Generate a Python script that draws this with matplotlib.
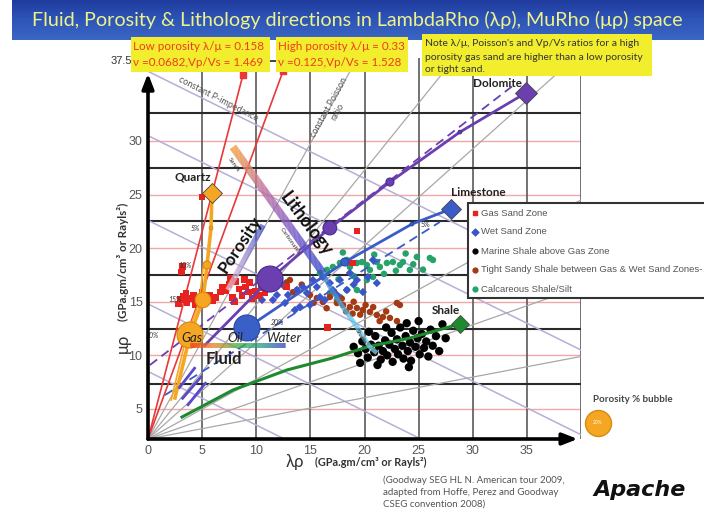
import numpy as np
import matplotlib
matplotlib.use("Agg")
import matplotlib.pyplot as plt
from matplotlib.collections import LineCollection
from matplotlib.colors import LinearSegmentedColormap
from matplotlib.patches import Rectangle

plt.rcParams['font.family'] = ['Lato', 'DejaVu Sans']

# ---------------- axis ticks ----------------
lr_ticks = [0, 5, 10, 15, 20, 25, 30, 35]
mr_ticks = [5, 10, 15, 20, 25, 30]
mr_top = 37.5
overlay_grid_mr = [7.35, 12.45, 17.5, 22.5, 27.5, 32.6]

# ---------------- well-log clusters (lambda-rho, mu-rho) ----------------
gas_lr = [3.0, 3.3, 3.6, 3.9, 4.2, 4.5, 4.8, 5.1, 5.4, 5.7, 6.0, 3.5, 4.4, 5.0, 6.3, 2.8,
          7.2, 7.5, 7.8, 8.1, 8.4, 8.7, 9.0, 9.3, 9.6, 9.9, 10.2, 10.5, 8.0, 8.9, 7.6, 9.4,
          10.8, 6.7, 6.9, 3.2, 3.1, 4.99, 19.3, 18.9, 16.6, 12.8]
gas_mr = [15.2, 15.5, 14.9, 15.3, 15.6, 15.0, 15.4, 14.8, 15.2, 15.6, 15.1, 15.8, 14.7, 15.9, 15.4, 14.8,
          16.0, 16.6, 15.4, 16.9, 16.2, 15.6, 16.4, 15.9, 15.3, 16.0, 15.6, 16.3, 15.0, 17.1, 17.2, 16.8,
          15.8, 15.9, 16.4, 18.3, 17.8, 24.77, 21.6, 18.6, 12.6, 16.4]

wet_lr = [11.54, 11.91, 12.65, 12.93, 13.76, 14.04, 14.31, 14.68, 15.24, 15.60, 15.88, 16.16, 16.80,
          17.08, 17.73, 18.37, 18.65, 19.30, 19.85, 20.31, 20.78, 21.14, 13.57, 14.96, 16.34, 12.47,
          10.53, 17.5, 19.0]
wet_mr = [15.17, 15.63, 14.89, 15.63, 16.10, 14.51, 16.38, 15.82, 17.03, 16.38, 15.45, 17.31, 16.75,
          16.10, 17.03, 16.10, 17.69, 17.03, 15.91, 17.31, 18.90, 16.75, 14.23, 14.70, 15.17, 16.56,
          15.17, 15.6, 16.6]

marine_lr = [19.0, 19.4, 19.8, 20.1, 20.3, 20.6, 20.9, 21.0, 21.3, 21.5, 21.7, 21.9, 22.1, 22.3, 22.5,
             22.6, 22.8, 23.0, 23.1, 23.3, 23.5, 23.6, 23.8, 24.0, 24.2, 24.3, 24.5, 24.7, 24.9, 25.1,
             25.3, 25.5, 25.7, 25.9, 26.1, 26.3, 26.6, 26.9, 27.2, 25.0, 23.9, 22.0, 20.4, 27.5, 21.2,
             24.1, 19.6]
marine_mr = [10.8, 10.2, 11.3, 10.6, 9.8, 11.0, 10.3, 11.8, 10.9, 9.6, 10.4, 11.4, 10.0, 11.0, 12.1,
             9.4, 10.6, 11.5, 10.1, 12.6, 10.9, 9.7, 11.8, 10.4, 11.2, 9.5, 12.3, 10.8, 11.6, 10.1,
             12.0, 10.7, 11.3, 9.9, 12.4, 10.9, 11.8, 10.4, 12.9, 13.2, 13.0, 12.6, 12.2, 11.6, 9.1,
             8.9, 9.3]

tight_lr = [12.19, 13.11, 13.76, 14.96, 15.60, 16.16, 16.80, 17.45, 18.01, 18.65, 19.30, 19.85, 20.50,
            21.14, 21.70, 22.35, 22.99, 23.27, 16.5, 17.9, 18.3, 19.0, 19.6, 20.8, 21.4, 15.3, 14.2,
            13.4, 20.1, 22.0, 23.0, 17.2, 18.9, 12.8]
tight_mr = [17.22, 17.03, 16.10, 15.63, 15.35, 14.98, 15.45, 14.89, 14.70, 14.51, 14.42, 14.24, 14.05,
            13.77, 13.58, 13.49, 14.89, 14.70, 14.4, 15.3, 14.1, 15.0, 13.8, 14.5, 13.2, 14.9, 16.6,
            15.9, 14.7, 14.1, 13.2, 15.9, 13.9, 16.8]

calc_lr = [15.88, 16.53, 17.08, 17.73, 18.37, 18.65, 19.30, 19.76, 20.22, 20.50, 21.14, 21.42, 22.07,
           22.62, 23.27, 23.55, 24.19, 24.84, 26.04, 26.32, 20.22, 20.78, 19.30, 18.37, 17.73, 17.45,
           16.80, 21.8, 22.9, 19.0, 17.6, 24.5, 25.4, 20.9, 18.0, 23.8]
calc_mr = [17.69, 17.97, 18.25, 18.62, 18.90, 18.25, 18.62, 18.71, 18.43, 17.97, 18.71, 18.25, 18.62,
           18.71, 18.43, 18.71, 17.97, 19.18, 19.08, 18.90, 17.03, 17.31, 16.10, 16.10, 15.45, 15.17,
           15.82, 17.6, 17.9, 17.4, 17.1, 18.5, 18.0, 19.4, 19.6, 19.5]

# ---------------- mineral end points and porosity trends ----------------
mineral_names = ['Quartz', 'Dolomite', 'Limestone', 'Shale']
mineral_lr = [5.91, 34.9, 27.98, 28.81]
mineral_mr = [25.14, 34.48, 23.65, 12.93]

quartz_trend_lr = [5.91, 5.82, 5.45, 5.08, 3.88, 2.49]
quartz_trend_mr = [25.14, 21.88, 18.43, 15.17, 11.9, 6.03]
quartz_bub_lr = [5.82, 5.45, 5.08, 3.88]
quartz_bub_mr = [21.88, 18.43, 15.17, 11.9]
quartz_por = [5, 10, 15, 20]

dolo_trend_lr = [5.26, 11.27, 16.8, 22.35, 28.81, 34.9]
dolo_trend_mr = [10.96, 17.12, 21.88, 26.17, 30.83, 34.48]
dolo_bub_lr = [11.27, 16.8, 22.35, 28.81]
dolo_bub_mr = [17.12, 21.88, 26.17, 30.83]
dolo_por = [20, 14, 10, 5]

lime_trend_lr = [9.14, 18.19, 24.38, 27.98]
lime_trend_mr = [12.56, 18.71, 22.25, 23.65]
lime_bub_lr = [9.14, 18.19, 24.38]
lime_bub_mr = [12.56, 18.71, 22.25]
lime_por = [20, 10, 5]

shale_trend_lr = [3.14, 7.85, 12.84, 17.08, 20.22, 24.19, 28.81]
shale_trend_mr = [4.25, 6.77, 8.64, 9.76, 10.78, 11.62, 12.93]

dolo_dash_lr = [0.18, 33.9]
dolo_dash_mr = [9.1, 35.3]
lime_dash_lr = [1.57, 26.96]
lime_dash_mr = [6.3, 22.44]

# lambda/mu reference lines (low / high porosity)
ratio_end_lr = [8.77, 12.47]
ratio_end_mr = [36.15, 36.5]

# constant-ratio guide lines from the origin corner
radial_end_lr = [19.1, 27.2, 37.8, 40.0, 40.0, 40.0]
radial_end_mr = [37.3, 36.3, 36.3, 24.5, 16.4, 9.9]

# constant P-impedance guide lines: mu-rho = C - lambda-rho / 2
pimp_const = [36.5, 30.5, 22.6, 14.8, 8.5]

# direction arrows
lith_lr = [7.85, 16.16]
lith_mr = [29.44, 17.69]
shale_dir_lr = [16.16, 16.8, 18.0, 19.3, 20.5, 21.14]
shale_dir_mr = [17.69, 16.38, 14.5, 12.65, 10.78, 10.22]
poro_lr = [7.39, 10.62]
poro_mr = [16.1, 22.15]
fluid_lr = [3.88, 12.65]
fluid_mr = [10.96, 10.96]
short_segs = [[(3.2, 6.0), (4.9, 8.0)], [(3.7, 5.4), (5.3, 7.4)], [(2.9, 7.0), (4.3, 8.8)]]

# ---------------- figure ----------------
W, H = 704, 515
fig = plt.figure(figsize=(W / 100, H / 100), dpi=100)
fig.patch.set_facecolor('white')

ybot = 2.2
ax = fig.add_axes([148 / W, 1 - 439 / H, (581 - 148) / W, (439 - 58) / H])
ax.set_xlim(0, 40)
ax.set_ylim(ybot, 37.74)
for s in ax.spines.values():
    s.set_visible(False)
ax.set_facecolor('none')


def bubble_s(por):
    d = 2 + 0.06 * np.asarray(por, float) ** 2
    return (d * 0.72) ** 2


def gradient_path(xs, ys, colors, lw, z, n=200):
    xs = np.asarray(xs, float)
    ys = np.asarray(ys, float)
    seg = np.hypot(np.diff(xs), np.diff(ys))
    cum = np.concatenate([[0], np.cumsum(seg)])
    t = np.linspace(0, cum[-1], n)
    px = np.interp(t, cum, xs)
    py = np.interp(t, cum, ys)
    pts = np.column_stack([px, py]).reshape(-1, 1, 2)
    segs = np.concatenate([pts[:-1], pts[1:]], axis=1)
    cmap = LinearSegmentedColormap.from_list('g', colors)
    lc = LineCollection(segs, colors=cmap(np.linspace(0, 1, n - 1)), linewidths=lw,
                        capstyle='butt', zorder=z)
    ax.add_collection(lc)


# grid
for v in mr_ticks:
    ax.plot([0, 40], [v, v], color='#f2a8a8', lw=1.0, zorder=1)
for v in lr_ticks[1:]:
    ax.plot([v, v], [ybot, 37.74], color='#5a5a5a', lw=1.2, zorder=1)
ax.plot([40, 40], [ybot, 37.74], color='#5a5a5a', lw=1.2, zorder=1)
for v in overlay_grid_mr:
    ax.plot([0, 40], [v, v], color='#2a2a2a', lw=1.5, zorder=1)

# guide lines
for c in pimp_const:
    xe = min(40, 2 * (c - ybot))
    x0 = max(0, 2 * (c - 37.74))
    ax.plot([x0, xe], [c - x0 / 2, c - xe / 2], color='#b7aed6', lw=1.1, zorder=2)
for xe, ye in zip(radial_end_lr, radial_end_mr):
    ax.plot([0, xe], [ybot, ye], color='#a8a8a8', lw=0.9, zorder=2)
for xe, ye in zip(ratio_end_lr, ratio_end_mr):
    ax.plot([0, xe], [ybot, ye], color='#e8383a', lw=1.2, zorder=3)
ax.scatter(ratio_end_lr, ratio_end_mr, marker='s', s=14, color='#e8383a', zorder=3)
ax.plot([0, 15], [mr_top, mr_top], color='#222222', lw=1.2, zorder=3, clip_on=False)

ax.text(6.46, 33.9, 'constant P-impedance', rotation=-27, fontsize=6.5, color='#555555',
        ha='center', va='center', zorder=4)
ax.text(17.1, 32.9, 'constant Poisson\nratio', rotation=61, fontsize=6.5, color='#555555',
        ha='center', va='center', linespacing=1.1, zorder=4)

# well-log clusters
ax.scatter(calc_lr, calc_mr, marker='o', s=22, color='#26a36a', edgecolors='none', zorder=5)
ax.scatter(tight_lr, tight_mr, marker='o', s=22, color='#a33a14', edgecolors='none', zorder=5)
ax.scatter(wet_lr, wet_mr, marker='D', s=18, color='#3a55c8', edgecolors='none', zorder=5)
ax.scatter(marine_lr, marine_mr, marker='o', s=36, color='black', edgecolors='none', zorder=5)
ax.scatter(gas_lr, gas_mr, marker='s', s=22, color='#e8231f', edgecolors='none', zorder=5)

# mineral trends
ax.plot(dolo_dash_lr, dolo_dash_mr, color='#6b3fb0', lw=1.3, ls=(0, (5, 3)), zorder=6)
ax.plot(lime_dash_lr, lime_dash_mr, color='#3a5cc8', lw=1.3, ls=(0, (5, 3)), zorder=6)
ax.plot(shale_trend_lr, shale_trend_mr, color='#1e8a2e', lw=2.2, zorder=6)
ax.plot(dolo_trend_lr, dolo_trend_mr, color='#6b3fb0', lw=2.0, zorder=6)
ax.plot(lime_trend_lr, lime_trend_mr, color='#3a5cc8', lw=2.0, zorder=6)
ax.plot(quartz_trend_lr, quartz_trend_mr, color='#f5a623', lw=2.6, zorder=6)
ax.plot([q - 0.35 for q in quartz_trend_lr[2:]], [q - 0.2 for q in quartz_trend_mr[2:]],
        color='#f5a623', lw=1.2, zorder=6)
for seg in short_segs:
    ax.plot([seg[0][0], seg[1][0]], [seg[0][1], seg[1][1]], color='#5a4ac8', lw=2.0, zorder=6)

ax.scatter(quartz_bub_lr, quartz_bub_mr, s=bubble_s(quartz_por), color='#f5a623',
           edgecolors='#d88a10', linewidths=0.8, zorder=7)
ax.scatter(dolo_bub_lr, dolo_bub_mr, s=bubble_s(dolo_por), color='#6b3fb0',
           edgecolors='#4a2a90', linewidths=0.8, zorder=7)
ax.scatter(lime_bub_lr, lime_bub_mr, s=bubble_s(lime_por), color='#3a60c8',
           edgecolors='#2a4aa8', linewidths=0.8, zorder=7)

mcolors = ['#f5a623', '#6b3fb0', '#3a5cc8', '#1e8a2e']
msizes = [10, 11, 10, 9]
for x, y, c, m in zip(mineral_lr, mineral_mr, mcolors, msizes):
    ax.plot(x, y, marker='D', ms=m, color=c, mec='#444444', mew=0.6, zorder=8)

lab = dict(fontsize=8.5, fontweight='bold', color='#222222', ha='center', va='center', zorder=9)
ax.text(4.16, 26.64, 'Quartz', **lab)
ax.text(32.3, 35.4, 'Dolomite', **lab)
ax.text(30.5, 25.15, 'Limestone', **lab)
ax.text(27.5, 14.2, 'Shale', **lab)

pct = dict(fontsize=5, style='italic', color='#333333', ha='right', va='center', zorder=9)
for x, y, p in zip(quartz_bub_lr, quartz_bub_mr, quartz_por):
    ax.text(x - 0.9 - 0.02 * p * p / 4, y, f'{p}%', **pct)
ax.text(11.36, 13.03, '20%', fontsize=5, style='italic', color='#333333', ha='left', va='center', zorder=9)
ax.text(25.2, 22.25, '5%', fontsize=5, color='#333333', ha='left', va='center', zorder=9)

# direction arrows
gradient_path(lith_lr, lith_mr, ['#f5a040', '#c070a0', '#7a5ac8', '#3a4ec8'], 5.5, 10)
gradient_path(shale_dir_lr, shale_dir_mr, ['#3a6ad0', '#50c0e8', '#8ad8f0'], 3.2, 10)
gradient_path(poro_lr, poro_mr, ['#f6d0d8', '#9a8ad0', '#3a4ec8'], 4.0, 10)
gradient_path(fluid_lr, fluid_mr, ['#f03a20', '#e88020', '#40b040', '#2a9a8a', '#3040c0'], 3.6, 10)

ax.text(8.5, 20.3, 'Porosity', rotation=56, fontsize=12.5, fontweight='bold', color='#111111',
        ha='center', va='center', zorder=11)
ax.text(14.6, 22.3, 'Lithology', rotation=-53, fontsize=13, fontweight='bold', color='#111111',
        ha='center', va='center', zorder=11)
ax.text(7.0, 9.66, 'Fluid', fontsize=12, fontweight='bold', color='#222222',
        ha='center', va='center', zorder=11)
flab = dict(fontsize=9.5, style='italic', color='#222222', ha='center', va='center', zorder=11)
ax.text(4.06, 11.62, 'Gas', **flab)
ax.text(8.03, 11.62, 'Oil', **flab)
ax.text(12.56, 11.62, 'Water', **flab)
tiny = dict(fontsize=4.5, color='#333333', ha='center', va='center', zorder=11)
ax.text(7.94, 27.75, 'Sands', rotation=-55, **tiny)
ax.text(13.1, 20.7, 'Carbonates', rotation=-55, **tiny)
ax.text(19.6, 11.7, 'Shales', rotation=-60, **tiny)

# axes arrows
arrow = dict(arrowstyle='-|>,head_width=0.35,head_length=0.9', lw=2.6, color='black',
             shrinkA=0, shrinkB=0)
ax.annotate('', xy=(0, 36.3), xytext=(0, ybot), arrowprops=arrow, annotation_clip=False, zorder=12)
ax.annotate('', xy=(39.7, ybot), xytext=(0, ybot), arrowprops=arrow, annotation_clip=False, zorder=12)

# ticks
ax.set_xticks(lr_ticks)
ax.set_xticklabels([str(t) for t in lr_ticks], fontsize=9, color='#555555', family='Liberation Sans')
ax.set_yticks(mr_ticks)
ax.set_yticklabels([str(t) for t in mr_ticks], fontsize=9, color='#555555', family='Liberation Sans')
ax.tick_params(length=0, pad=4)
ax.text(-1.5, mr_top, '37.5', fontsize=8, color='#333333', family='Liberation Sans',
        ha='right', va='center')

# ---------------- overlay in pixel coordinates ----------------
ov = fig.add_axes([0, 0, 1, 1], zorder=20)
ov.set_xlim(0, W)
ov.set_ylim(H, 0)
ov.axis('off')
ov.patch.set_alpha(0)

grad = np.linspace(0, 1, 50).reshape(-1, 1)
bar_cmap = LinearSegmentedColormap.from_list('bar', ['#1f3c9e', '#2e55b8', '#3a66c4'])
ov.imshow(grad, cmap=bar_cmap, extent=(12, W, 40, 0), aspect='auto', zorder=1)
ov.text(357, 20, 'Fluid, Porosity & Lithology directions in LambdaRho (λρ), MuRho (μρ) space',
        fontsize=14.2, color='#eef288', ha='center', va='center', zorder=2)


def ybox(x0, y0, x1, y1):
    ov.add_patch(Rectangle((x0, y0), x1 - x0, y1 - y0, facecolor='#f2ee2e', edgecolor='none', zorder=3))


ybox(131, 37, 270, 72)
ybox(276, 37, 408, 72)
ybox(422, 34, 652, 76)
bt = dict(fontsize=8.4, color='#f03c1c', ha='left', va='center', zorder=4)
ov.text(133, 47, 'Low porosity λ/μ = 0.158', **bt)
ov.text(133, 62, 'ν =0.0682,Vp/Vs = 1.469', **bt)
ov.text(278, 47, 'High porosity λ/μ = 0.33', **bt)
ov.text(278, 62, 'ν =0.125,Vp/Vs = 1.528', **bt)
nt = dict(fontsize=7.5, color='#333333', ha='left', va='center', zorder=4)
ov.text(425, 43, "Note λ/μ, Poisson's and Vp/Vs ratios for a high", **nt)
ov.text(425, 57, 'porosity gas sand are higher than a low porosity', **nt)
ov.text(425, 70, 'or tight sand.', **nt)

# axis titles
ov.text(295, 462, 'λρ', fontsize=12, color='#333333', ha='center', va='center')
ov.text(371, 462, '(GPa.gm/cm³ or Rayls²)', fontsize=7.8, fontweight='bold', color='#333333',
        ha='center', va='center')
ov.text(123, 343, 'μρ', fontsize=12, color='#333333', ha='center', va='center', rotation=90)
ov.text(123, 262, '(GPa.gm/cm³ or Rayls²)', fontsize=8.3, fontweight='bold', color='#333333',
        ha='center', va='center', rotation=90)

# legend
ov.add_patch(Rectangle((468, 203), 260, 95, facecolor='white', edgecolor='#333333', lw=1.5, zorder=5))
leg = [('s', '#e8231f', 'Gas Sand Zone'),
       ('D', '#3a55c8', 'Wet Sand Zone'),
       ('o', 'black', 'Marine Shale above Gas Zone'),
       ('o', '#a33a14', 'Tight Sandy Shale between Gas & Wet Sand Zones-'),
       ('o', '#26a36a', 'Calcareous Shale/Silt')]
for i, (m, c, t) in enumerate(leg):
    yy = 213 + 19 * i
    ov.scatter([475], [yy], marker=m, s=12, color=c, zorder=6)
    ov.text(481, yy, t, fontsize=6.8, color='#555555', family='Liberation Sans',
            ha='left', va='center', zorder=6)

# porosity bubble key
ov.text(633, 400, 'Porosity % bubble', fontsize=7, fontweight='bold', color='#444444',
        ha='center', va='center')
ov.scatter([598], [423], s=bubble_s([20]), color='#f5a623', edgecolors='#d88a10', lw=1, zorder=6)
ov.text(598, 423, '20%', fontsize=3.5, color='white', ha='center', va='center', zorder=7)

# source and logo
ov.text(383, 492, '(Goodway SEG HL N. American tour 2009,\nadapted from Hoffe, Perez and Goodway\nCSEG convention 2008)',
        fontsize=7, color='#555555', ha='left', va='center', linespacing=1.45)
ov.text(640, 490, 'Apache', fontsize=16, fontweight='bold', style='italic', color='#111111',
        family='DejaVu Sans', ha='center', va='center')

fig.savefig('out.png', dpi=100)
